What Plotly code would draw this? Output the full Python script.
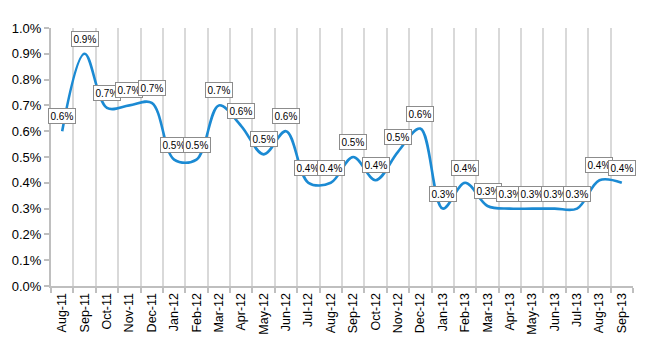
import plotly.graph_objects as go

months = ["Aug-11", "Sep-11", "Oct-11", "Nov-11", "Dec-11", "Jan-12", "Feb-12", "Mar-12",
          "Apr-12", "May-12", "Jun-12", "Jul-12", "Aug-12", "Sep-12", "Oct-12", "Nov-12",
          "Dec-12", "Jan-13", "Feb-13", "Mar-13", "Apr-13", "May-13", "Jun-13", "Jul-13",
          "Aug-13", "Sep-13"]
rate_pct = [0.60, 0.90, 0.69, 0.70, 0.71, 0.49, 0.49, 0.70,
            0.62, 0.51, 0.60, 0.40, 0.40, 0.50, 0.41, 0.52,
            0.61, 0.30, 0.40, 0.31, 0.30, 0.30, 0.30, 0.30,
            0.41, 0.40]
y_ticks = [i / 10 for i in range(11)]

FONT = "Liberation Sans"
LINE_COLOR = "#1B8AD3"
GRID = "#D9D9D9"
AXIS = "#BFBFBF"

fig = go.Figure()
fig.add_trace(go.Scatter(
    x=months, y=rate_pct, mode="lines",
    line=dict(color=LINE_COLOR, width=2.6, shape="spline", smoothing=1.0),
    hoverinfo="skip", showlegend=False,
))

for m, v in zip(months, rate_pct):
    fig.add_annotation(
        x=m, y=v, xref="x", yref="y",
        text=f"{v:.1f}%", showarrow=False,
        yanchor="bottom", yshift=7,
        font=dict(family=FONT, size=10, color="#000000"),
        bgcolor="#FFFFFF", bordercolor="#8C8C8C", borderwidth=1, borderpad=1.5,
    )

fig.update_layout(
    width=650, height=350,
    margin=dict(l=51, r=17, t=28, b=64),
    paper_bgcolor="#FFFFFF", plot_bgcolor="#FFFFFF",
    font=dict(family=FONT, color="#000000"),
)
fig.update_xaxes(
    type="category", categoryorder="array", categoryarray=months,
    range=[-0.5, len(months) - 0.5],
    tickson="boundaries", ticks="outside", ticklen=5, tickcolor=AXIS, tickwidth=2,
    showgrid=True, gridcolor=GRID, gridwidth=2,
    showline=True, linecolor=AXIS, linewidth=2,
    tickangle=-90, tickfont=dict(family=FONT, size=12.5, color="#000000"),
    zeroline=False,
)
fig.update_yaxes(
    range=[0, 1.0], tickvals=y_ticks,
    ticktext=[f"{t:.1f}%" for t in y_ticks],
    ticks="outside", ticklen=5, tickcolor=AXIS, tickwidth=2,
    showgrid=False, showline=True, linecolor=AXIS, linewidth=2,
    tickfont=dict(family=FONT, size=13, color="#000000"),
    zeroline=False,
)

fig.write_html("out.html")
